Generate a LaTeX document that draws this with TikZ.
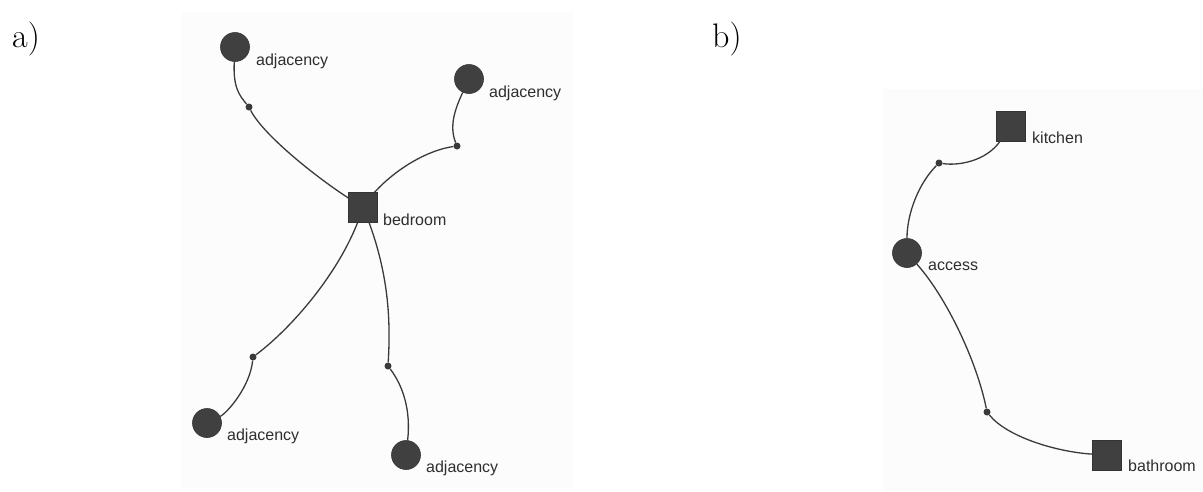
\documentclass[tikz,border=0pt]{standalone}
\usepackage{fontspec}
\newfontfamily\lblfont{Liberation Sans}
\definecolor{nodegray}{HTML}{404040}
\definecolor{linegray}{HTML}{3A3A3A}
\definecolor{panelbg}{HTML}{FCFCFC}
\begin{document}
\begin{tikzpicture}[x=1pt,y=-1pt,
  roundnode/.style={circle,fill=nodegray,draw=nodegray!80!black,line width=0.6pt,minimum size=29pt,inner sep=0pt},
  sqnode/.style={rectangle,fill=nodegray,draw=nodegray!80!black,line width=0.6pt,minimum width=29pt,minimum height=30pt,inner sep=0pt},
  dotnode/.style={circle,fill=nodegray!90!black,minimum size=7pt,inner sep=0pt},
  lbl/.style={anchor=base west,inner sep=0pt,text=black!82,font=\lblfont\fontsize{16}{18}\selectfont},
  panellbl/.style={anchor=base west,inner sep=0pt,font=\fontsize{34}{40}\selectfont},
  conn/.style={draw=linegray,line width=1.3pt}]
\useasboundingbox (0,0) rectangle (1203,491);
\fill[panelbg] (182,12) rectangle (574,488);
\fill[panelbg] (883,89) rectangle (1203,491);

% panel labels
\node[panellbl] (pa) at (12,47) {a)};
\node[panellbl] (pb) at (712,47) {b)};

% ---- panel a ----
\node[dotnode] (d1) at (249,107) {};
\node[dotnode] (d2) at (457,146) {};
\node[dotnode] (d3) at (253,357) {};
\node[dotnode] (d4) at (388,366) {};

\draw[conn] (d1) .. controls +(15,30) and +(-35,-20) .. (363,207);
\draw[conn] (d2) .. controls +(-35,5) and +(20,-30) .. (363,207);
\draw[conn] (363,207) .. controls +(-18,60) and +(40,-30) .. (d3);
\draw[conn] (363,207) .. controls +(25,60) and +(3,-50) .. (d4);

\node[sqnode] (bed) at (363,207) {};
\node[roundnode] (c1) at (235,47) {};
\node[roundnode] (c2) at (469,79) {};
\node[roundnode] (c3) at (207,423) {};
\node[roundnode] (c4) at (406,455) {};

\draw[conn] (c1) .. controls +(-2,40) and +(-10,-12) .. (d1);
\draw[conn] (c2) .. controls +(-14,30) and +(-8,-20) .. (d2);
\draw[conn] (d3) .. controls +(-3,30) and +(20,-10) .. (c3);
\draw[conn] (d4) .. controls +(15,20) and +(5,-45) .. (c4);

\node[lbl] (lc1) at (256,65) {adjacency};
\node[lbl] (lc2) at (489,97) {adjacency};
\node[lbl] (lbed) at (383,225) {bedroom};
\node[lbl] (lc3) at (227,440) {adjacency};
\node[lbl] (lc4) at (426,472) {adjacency};

% ---- panel b ----
\node[dotnode] (e1) at (939,163) {};
\node[dotnode] (e2) at (987,412) {};
\node[sqnode] (kit) at (1011,126) {};
\node[roundnode] (acc) at (907,253) {};
\node[sqnode] (bath) at (1107,455) {};

\draw[conn] (kit) .. controls +(-25,35) and +(20,3) .. (e1);
\draw[conn] (e1) .. controls +(-20,20) and +(0,-40) .. (acc);
\draw[conn] (acc) .. controls +(40,45) and +(-10,-50) .. (e2);
\draw[conn] (e2) .. controls +(20,25) and +(-50,-3) .. (bath);

\node[lbl] (lkit) at (1032,143) {kitchen};
\node[lbl] (lacc) at (928,270) {access};
\node[lbl] (lbath) at (1128,471) {bathroom};
\end{tikzpicture}
\end{document}
